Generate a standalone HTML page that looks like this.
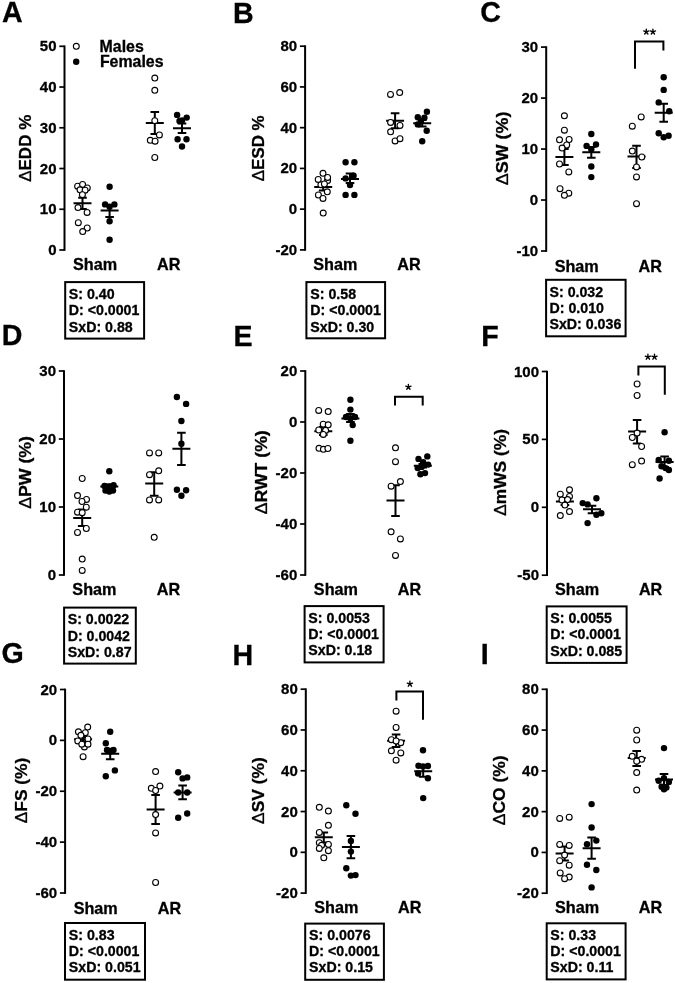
<!DOCTYPE html>
<html><head><meta charset="utf-8"><title>Figure</title><style>
html,body{margin:0;padding:0;background:#fff;}
svg{display:block;will-change:transform;}
text{font-family:"Liberation Sans", sans-serif;font-weight:bold;fill:#000;stroke:#000;stroke-width:0.3px;}
.let{font-size:28.6px;}
.tk{font-size:15.5px;text-anchor:end;}
.xl{font-size:16.2px;text-anchor:middle;}
.yl{font-size:16.5px;text-anchor:middle;}
.dl{font-weight:normal;}
.bx{font-size:14.2px;}
.lg{font-size:15.9px;}
.st{font-size:18px;font-weight:normal;text-anchor:middle;}
circle{fill:#000;}
circle.o{fill:#fff;stroke:#000;stroke-width:1.1px;}
</style></head>
<body>
<svg width="675" height="983" viewBox="0 0 675 983">
<rect width="675" height="983" fill="#fff"/>
<g id="pA">
<text x="2" y="21.8" class="let">A</text>
<line x1="64.5" y1="45.45" x2="64.5" y2="250.85" stroke="#000" stroke-width="2.0"/>
<line x1="59.3" y1="250" x2="64.5" y2="250" stroke="#000" stroke-width="1.7"/>
<text transform="translate(56.5,255) scale(0.97,1)" class="tk">0</text>
<line x1="59.3" y1="209.26" x2="64.5" y2="209.26" stroke="#000" stroke-width="1.7"/>
<text transform="translate(56.5,214.26) scale(0.97,1)" class="tk">10</text>
<line x1="59.3" y1="168.52" x2="64.5" y2="168.52" stroke="#000" stroke-width="1.7"/>
<text transform="translate(56.5,173.52) scale(0.97,1)" class="tk">20</text>
<line x1="59.3" y1="127.78" x2="64.5" y2="127.78" stroke="#000" stroke-width="1.7"/>
<text transform="translate(56.5,132.78) scale(0.97,1)" class="tk">30</text>
<line x1="59.3" y1="87.04" x2="64.5" y2="87.04" stroke="#000" stroke-width="1.7"/>
<text transform="translate(56.5,92.04) scale(0.97,1)" class="tk">40</text>
<line x1="59.3" y1="46.3" x2="64.5" y2="46.3" stroke="#000" stroke-width="1.7"/>
<text transform="translate(56.5,51.3) scale(0.97,1)" class="tk">50</text>
<text transform="translate(30.9,148.3) rotate(-90)" class="yl" textLength="67.1" lengthAdjust="spacingAndGlyphs"><tspan class="dl">Δ</tspan>EDD %</text>
<text x="95" y="270" class="xl">Sham</text>
<text x="168.7" y="270" class="xl">AR</text>
<path d="M82.5 197.8V208.9M78.2 197.8H86.8M78.2 208.9H86.8M73.5 203.3H91.5" stroke="#000" stroke-width="2.0" fill="none"/>
<path d="M109.6 205.5V216.9M105.3 205.5H113.9M105.3 216.9H113.9M100.6 210.5H118.6" stroke="#000" stroke-width="2.0" fill="none"/>
<path d="M154.8 112.1V134.1M150.5 112.1H159.1M150.5 134.1H159.1M145.8 122.9H163.8" stroke="#000" stroke-width="2.0" fill="none"/>
<path d="M182 123.6V133M177.7 123.6H186.3M177.7 133H186.3M173 128.2H191" stroke="#000" stroke-width="2.0" fill="none"/>
<circle cx="77.6" cy="186.2" r="2.95" class="o"/>
<circle cx="82.6" cy="184.4" r="2.95" class="o"/>
<circle cx="87.3" cy="188" r="2.95" class="o"/>
<circle cx="80" cy="189.8" r="2.95" class="o"/>
<circle cx="85.1" cy="190.2" r="2.95" class="o"/>
<circle cx="82.4" cy="194.7" r="2.95" class="o"/>
<circle cx="78" cy="207.6" r="2.95" class="o"/>
<circle cx="87.1" cy="212.4" r="2.95" class="o"/>
<circle cx="78.3" cy="222.7" r="2.95" class="o"/>
<circle cx="87.2" cy="228" r="2.95" class="o"/>
<circle cx="82.7" cy="231.6" r="2.95" class="o"/>
<circle cx="109.6" cy="186.8" r="3.2"/>
<circle cx="105.1" cy="204.4" r="3.2"/>
<circle cx="114.4" cy="204.4" r="3.2"/>
<circle cx="109.6" cy="206.7" r="3.2"/>
<circle cx="109.6" cy="221.3" r="3.2"/>
<circle cx="109.6" cy="239.8" r="3.2"/>
<circle cx="154.8" cy="78.1" r="2.95" class="o"/>
<circle cx="154.8" cy="90.3" r="2.95" class="o"/>
<circle cx="154.8" cy="120.7" r="2.95" class="o"/>
<circle cx="159.4" cy="134.9" r="2.95" class="o"/>
<circle cx="150.3" cy="140.3" r="2.95" class="o"/>
<circle cx="155.1" cy="141.2" r="2.95" class="o"/>
<circle cx="154.8" cy="157.5" r="2.95" class="o"/>
<circle cx="177.1" cy="114.9" r="3.2"/>
<circle cx="186.7" cy="117.6" r="3.2"/>
<circle cx="182" cy="120.5" r="3.2"/>
<circle cx="179.5" cy="121" r="3.2"/>
<circle cx="177.6" cy="139.2" r="3.2"/>
<circle cx="186.5" cy="139.2" r="3.2"/>
<circle cx="182" cy="146.5" r="3.2"/>
<rect x="65.2" y="282.1" width="78.9" height="56.5" fill="none" stroke="#000" stroke-width="2.0"/>
<text x="68.8" y="298.9" class="bx">S: 0.40</text>
<text x="68.8" y="315.2" class="bx">D: &lt;0.0001</text>
<text x="68.8" y="331.5" class="bx">SxD: 0.88</text>
<circle cx="76.3" cy="46.3" r="2.95" class="o"/>
<circle cx="76.2" cy="61.7" r="3.2"/>
<text x="99.6" y="51.9" class="lg">Males</text>
<text x="99.9" y="66.5" class="lg">Females</text>
</g>
<g id="pB">
<text x="233" y="22.6" class="let">B</text>
<line x1="305.1" y1="45.35" x2="305.1" y2="250.75" stroke="#000" stroke-width="2.0"/>
<line x1="299.9" y1="249.9" x2="305.1" y2="249.9" stroke="#000" stroke-width="1.7"/>
<text transform="translate(297.1,254.9) scale(0.97,1)" class="tk">-20</text>
<line x1="299.9" y1="209.16" x2="305.1" y2="209.16" stroke="#000" stroke-width="1.7"/>
<text transform="translate(297.1,214.16) scale(0.97,1)" class="tk">0</text>
<line x1="299.9" y1="168.42" x2="305.1" y2="168.42" stroke="#000" stroke-width="1.7"/>
<text transform="translate(297.1,173.42) scale(0.97,1)" class="tk">20</text>
<line x1="299.9" y1="127.68" x2="305.1" y2="127.68" stroke="#000" stroke-width="1.7"/>
<text transform="translate(297.1,132.68) scale(0.97,1)" class="tk">40</text>
<line x1="299.9" y1="86.94" x2="305.1" y2="86.94" stroke="#000" stroke-width="1.7"/>
<text transform="translate(297.1,91.94) scale(0.97,1)" class="tk">60</text>
<line x1="299.9" y1="46.2" x2="305.1" y2="46.2" stroke="#000" stroke-width="1.7"/>
<text transform="translate(297.1,51.2) scale(0.97,1)" class="tk">80</text>
<text transform="translate(264.2,148.3) rotate(-90)" class="yl" textLength="65.8" lengthAdjust="spacingAndGlyphs"><tspan class="dl">Δ</tspan>ESD %</text>
<text x="335.3" y="270" class="xl">Sham</text>
<text x="409" y="270" class="xl">AR</text>
<path d="M323.2 184V190.6M318.9 184H327.5M318.9 190.6H327.5M314.2 187.1H332.2" stroke="#000" stroke-width="2.0" fill="none"/>
<path d="M350 173.6V183M345.7 173.6H354.3M345.7 183H354.3M341 178.9H359" stroke="#000" stroke-width="2.0" fill="none"/>
<path d="M395.1 113.3V128.3M390.8 113.3H399.4M390.8 128.3H399.4M386.1 120.8H404.1" stroke="#000" stroke-width="2.0" fill="none"/>
<path d="M422.2 120V126.5M417.9 120H426.5M417.9 126.5H426.5M413.2 123.3H431.2" stroke="#000" stroke-width="2.0" fill="none"/>
<circle cx="320.9" cy="184.7" r="2.95" class="o"/>
<circle cx="327.6" cy="180.5" r="2.95" class="o"/>
<circle cx="323" cy="173.3" r="2.95" class="o"/>
<circle cx="327.6" cy="177.4" r="2.95" class="o"/>
<circle cx="318.2" cy="179.4" r="2.95" class="o"/>
<circle cx="324.4" cy="184" r="2.95" class="o"/>
<circle cx="327.3" cy="191.8" r="2.95" class="o"/>
<circle cx="318.4" cy="195" r="2.95" class="o"/>
<circle cx="323" cy="198.4" r="2.95" class="o"/>
<circle cx="323.2" cy="213.1" r="2.95" class="o"/>
<circle cx="345.6" cy="162.3" r="3.2"/>
<circle cx="354.4" cy="162.3" r="3.2"/>
<circle cx="345.6" cy="178.4" r="3.2"/>
<circle cx="353.6" cy="175.8" r="3.2"/>
<circle cx="350" cy="185.1" r="3.2"/>
<circle cx="345.6" cy="194.9" r="3.2"/>
<circle cx="354.4" cy="194.9" r="3.2"/>
<circle cx="390.5" cy="94.4" r="2.95" class="o"/>
<circle cx="399.7" cy="92.6" r="2.95" class="o"/>
<circle cx="390.6" cy="122.4" r="2.95" class="o"/>
<circle cx="400" cy="125.4" r="2.95" class="o"/>
<circle cx="390.6" cy="131.8" r="2.95" class="o"/>
<circle cx="395.1" cy="140.9" r="2.95" class="o"/>
<circle cx="400" cy="138.7" r="2.95" class="o"/>
<circle cx="426.9" cy="111.8" r="3.2"/>
<circle cx="417.8" cy="117.3" r="3.2"/>
<circle cx="424.4" cy="117.8" r="3.2"/>
<circle cx="417.8" cy="124.4" r="3.2"/>
<circle cx="421" cy="121" r="3.2"/>
<circle cx="426.7" cy="130.7" r="3.2"/>
<circle cx="422.2" cy="141.2" r="3.2"/>
<rect x="306.4" y="282.1" width="78.7" height="56.2" fill="none" stroke="#000" stroke-width="2.0"/>
<text x="310.3" y="298.9" class="bx">S: 0.58</text>
<text x="310.3" y="315.2" class="bx">D: &lt;0.0001</text>
<text x="310.3" y="331.5" class="bx">SxD: 0.30</text>
</g>
<g id="pC">
<text x="480.3" y="22.3" class="let">C</text>
<line x1="546.2" y1="46.25" x2="546.2" y2="251.85" stroke="#000" stroke-width="2.0"/>
<line x1="541" y1="251" x2="546.2" y2="251" stroke="#000" stroke-width="1.7"/>
<text transform="translate(538.2,256) scale(0.97,1)" class="tk">-10</text>
<line x1="541" y1="200.03" x2="546.2" y2="200.03" stroke="#000" stroke-width="1.7"/>
<text transform="translate(538.2,205.03) scale(0.97,1)" class="tk">0</text>
<line x1="541" y1="149.05" x2="546.2" y2="149.05" stroke="#000" stroke-width="1.7"/>
<text transform="translate(538.2,154.05) scale(0.97,1)" class="tk">10</text>
<line x1="541" y1="98.08" x2="546.2" y2="98.08" stroke="#000" stroke-width="1.7"/>
<text transform="translate(538.2,103.08) scale(0.97,1)" class="tk">20</text>
<line x1="541" y1="47.1" x2="546.2" y2="47.1" stroke="#000" stroke-width="1.7"/>
<text transform="translate(538.2,52.1) scale(0.97,1)" class="tk">30</text>
<text transform="translate(508.3,148.4) rotate(-90)" class="yl" textLength="73.5" lengthAdjust="spacingAndGlyphs"><tspan class="dl">Δ</tspan>SW (%)</text>
<text x="576.7" y="271.8" class="xl">Sham</text>
<text x="650.2" y="271.8" class="xl">AR</text>
<path d="M564.4 148.9V165.1M560.1 148.9H568.7M560.1 165.1H568.7M555.4 157.1H573.4" stroke="#000" stroke-width="2.0" fill="none"/>
<path d="M591.3 147V157.8M587 147H595.6M587 157.8H595.6M582.3 152.3H600.3" stroke="#000" stroke-width="2.0" fill="none"/>
<path d="M636.5 145.7V168M632.2 145.7H640.8M632.2 168H640.8M627.5 156.6H645.5" stroke="#000" stroke-width="2.0" fill="none"/>
<path d="M663.7 103.8V121.7M659.4 103.8H668M659.4 121.7H668M654.7 112.7H672.7" stroke="#000" stroke-width="2.0" fill="none"/>
<circle cx="564.4" cy="115.8" r="2.95" class="o"/>
<circle cx="564.4" cy="130.2" r="2.95" class="o"/>
<circle cx="559.5" cy="139.8" r="2.95" class="o"/>
<circle cx="569.1" cy="139.5" r="2.95" class="o"/>
<circle cx="566.7" cy="145" r="2.95" class="o"/>
<circle cx="562.1" cy="148.1" r="2.95" class="o"/>
<circle cx="559.5" cy="164" r="2.95" class="o"/>
<circle cx="568.8" cy="171.9" r="2.95" class="o"/>
<circle cx="560" cy="188.7" r="2.95" class="o"/>
<circle cx="568.8" cy="193.2" r="2.95" class="o"/>
<circle cx="564.4" cy="195.3" r="2.95" class="o"/>
<circle cx="591.3" cy="134" r="3.2"/>
<circle cx="586.6" cy="145.9" r="3.2"/>
<circle cx="596" cy="144.5" r="3.2"/>
<circle cx="591.3" cy="149.2" r="3.2"/>
<circle cx="591.3" cy="166.5" r="3.2"/>
<circle cx="591.3" cy="177.1" r="3.2"/>
<circle cx="641.2" cy="116.9" r="2.95" class="o"/>
<circle cx="632.3" cy="126.2" r="2.95" class="o"/>
<circle cx="632.3" cy="151.1" r="2.95" class="o"/>
<circle cx="641.8" cy="157" r="2.95" class="o"/>
<circle cx="636.5" cy="166.9" r="2.95" class="o"/>
<circle cx="636.5" cy="176.9" r="2.95" class="o"/>
<circle cx="636.5" cy="203.7" r="2.95" class="o"/>
<circle cx="663.7" cy="77.2" r="3.2"/>
<circle cx="663.7" cy="89.9" r="3.2"/>
<circle cx="658.7" cy="102.4" r="3.2"/>
<circle cx="669.2" cy="111.3" r="3.2"/>
<circle cx="658.7" cy="133.2" r="3.2"/>
<circle cx="663.7" cy="137.2" r="3.2"/>
<circle cx="668.6" cy="135.8" r="3.2"/>
<path d="M635 68.8V41.4H663.4V50.4" stroke="#000" stroke-width="2" fill="none"/>
<path d="M646.30 31.80L646.30 29.05M646.30 31.80L648.92 30.95M646.30 31.80L647.92 34.02M646.30 31.80L644.68 34.02M646.30 31.80L643.68 30.95" stroke="#000" stroke-width="1.35" stroke-linecap="round" fill="none"/>
<path d="M652.90 31.80L652.90 29.05M652.90 31.80L655.52 30.95M652.90 31.80L654.52 34.02M652.90 31.80L651.28 34.02M652.90 31.80L650.28 30.95" stroke="#000" stroke-width="1.35" stroke-linecap="round" fill="none"/>
<rect x="546.1" y="279.8" width="79.5" height="56.5" fill="none" stroke="#000" stroke-width="2.0"/>
<text x="549.5" y="296.7" class="bx">S: 0.032</text>
<text x="549.5" y="312.7" class="bx">D: 0.010</text>
<text x="549.5" y="328.7" class="bx">SxD: 0.036</text>
</g>
<g id="pD">
<text x="1.7" y="344.8" class="let">D</text>
<line x1="64" y1="370.15" x2="64" y2="575.85" stroke="#000" stroke-width="2.0"/>
<line x1="58.8" y1="575" x2="64" y2="575" stroke="#000" stroke-width="1.7"/>
<text transform="translate(56,580) scale(0.97,1)" class="tk">0</text>
<line x1="58.8" y1="507" x2="64" y2="507" stroke="#000" stroke-width="1.7"/>
<text transform="translate(56,512) scale(0.97,1)" class="tk">10</text>
<line x1="58.8" y1="439" x2="64" y2="439" stroke="#000" stroke-width="1.7"/>
<text transform="translate(56,444) scale(0.97,1)" class="tk">20</text>
<line x1="58.8" y1="371" x2="64" y2="371" stroke="#000" stroke-width="1.7"/>
<text transform="translate(56,376) scale(0.97,1)" class="tk">30</text>
<text transform="translate(30.7,472.4) rotate(-90)" class="yl" textLength="72.8" lengthAdjust="spacingAndGlyphs"><tspan class="dl">Δ</tspan>PW (%)</text>
<text x="94.4" y="595" class="xl">Sham</text>
<text x="168.4" y="595" class="xl">AR</text>
<path d="M82.2 509.5V526M77.9 509.5H86.5M77.9 526H86.5M73.2 518H91.2" stroke="#000" stroke-width="2.0" fill="none"/>
<path d="M109.3 484.5V488.5M105 484.5H113.6M105 488.5H113.6M100.3 486.4H118.3" stroke="#000" stroke-width="2.0" fill="none"/>
<path d="M154.2 472.2V495.7M149.9 472.2H158.5M149.9 495.7H158.5M145.2 483.6H163.2" stroke="#000" stroke-width="2.0" fill="none"/>
<path d="M181.4 432.8V465.1M177.1 432.8H185.7M177.1 465.1H185.7M172.4 448.7H190.4" stroke="#000" stroke-width="2.0" fill="none"/>
<circle cx="82.2" cy="478.5" r="2.95" class="o"/>
<circle cx="77.5" cy="495.6" r="2.95" class="o"/>
<circle cx="86.5" cy="499.4" r="2.95" class="o"/>
<circle cx="82" cy="501.5" r="2.95" class="o"/>
<circle cx="86.3" cy="507.2" r="2.95" class="o"/>
<circle cx="77.5" cy="512.2" r="2.95" class="o"/>
<circle cx="82.2" cy="512.7" r="2.95" class="o"/>
<circle cx="86.3" cy="528.5" r="2.95" class="o"/>
<circle cx="77.5" cy="532.5" r="2.95" class="o"/>
<circle cx="82.2" cy="559.1" r="2.95" class="o"/>
<circle cx="82.2" cy="570.4" r="2.95" class="o"/>
<circle cx="109.3" cy="471.3" r="3.2"/>
<circle cx="104.5" cy="486" r="3.2"/>
<circle cx="113.6" cy="485.3" r="3.2"/>
<circle cx="109.3" cy="486.5" r="3.2"/>
<circle cx="105.5" cy="490.5" r="3.2"/>
<circle cx="113" cy="490.5" r="3.2"/>
<circle cx="109.3" cy="491.5" r="3.2"/>
<circle cx="149.5" cy="452.9" r="2.95" class="o"/>
<circle cx="158.7" cy="452.9" r="2.95" class="o"/>
<circle cx="158.7" cy="470.8" r="2.95" class="o"/>
<circle cx="149.5" cy="474.7" r="2.95" class="o"/>
<circle cx="149.5" cy="499.9" r="2.95" class="o"/>
<circle cx="158.7" cy="499.9" r="2.95" class="o"/>
<circle cx="154.2" cy="537.3" r="2.95" class="o"/>
<circle cx="176.9" cy="397" r="3.2"/>
<circle cx="186.1" cy="403.9" r="3.2"/>
<circle cx="181.4" cy="421" r="3.2"/>
<circle cx="181.4" cy="443.7" r="3.2"/>
<circle cx="176.9" cy="489.8" r="3.2"/>
<circle cx="186.1" cy="490.3" r="3.2"/>
<circle cx="181.4" cy="495.7" r="3.2"/>
<rect x="64.1" y="607.6" width="71.7" height="56" fill="none" stroke="#000" stroke-width="2.0"/>
<text x="67.7" y="624.2" class="bx">S: 0.0022</text>
<text x="67.7" y="640.5" class="bx">D: 0.0042</text>
<text x="67.7" y="656.8" class="bx">SxD: 0.87</text>
</g>
<g id="pE">
<text x="233.4" y="346.1" class="let">E</text>
<line x1="305.3" y1="370.15" x2="305.3" y2="575.85" stroke="#000" stroke-width="2.0"/>
<line x1="300.1" y1="575" x2="305.3" y2="575" stroke="#000" stroke-width="1.7"/>
<text transform="translate(297.3,580) scale(0.97,1)" class="tk">-60</text>
<line x1="300.1" y1="524" x2="305.3" y2="524" stroke="#000" stroke-width="1.7"/>
<text transform="translate(297.3,529) scale(0.97,1)" class="tk">-40</text>
<line x1="300.1" y1="473" x2="305.3" y2="473" stroke="#000" stroke-width="1.7"/>
<text transform="translate(297.3,478) scale(0.97,1)" class="tk">-20</text>
<line x1="300.1" y1="422" x2="305.3" y2="422" stroke="#000" stroke-width="1.7"/>
<text transform="translate(297.3,427) scale(0.97,1)" class="tk">0</text>
<line x1="300.1" y1="371" x2="305.3" y2="371" stroke="#000" stroke-width="1.7"/>
<text transform="translate(297.3,376) scale(0.97,1)" class="tk">20</text>
<text transform="translate(267.1,472.3) rotate(-90)" class="yl" textLength="84" lengthAdjust="spacingAndGlyphs"><tspan class="dl">Δ</tspan>RWT (%)</text>
<text x="335.9" y="595" class="xl">Sham</text>
<text x="409.4" y="595" class="xl">AR</text>
<path d="M323.3 427V435M319 427H327.6M319 435H327.6M314.3 431.3H332.3" stroke="#000" stroke-width="2.0" fill="none"/>
<path d="M350.4 414V422M346.1 414H354.7M346.1 422H354.7M341.4 418.4H359.4" stroke="#000" stroke-width="2.0" fill="none"/>
<path d="M395.5 485.3V515.9M391.2 485.3H399.8M391.2 515.9H399.8M386.5 500.5H404.5" stroke="#000" stroke-width="2.0" fill="none"/>
<path d="M422.8 464V467.5M418.5 464H427.1M418.5 467.5H427.1M413.8 465.8H431.8" stroke="#000" stroke-width="2.0" fill="none"/>
<circle cx="318.7" cy="410.4" r="2.95" class="o"/>
<circle cx="328.2" cy="411.6" r="2.95" class="o"/>
<circle cx="323.2" cy="424.2" r="2.95" class="o"/>
<circle cx="328.2" cy="424.8" r="2.95" class="o"/>
<circle cx="318.7" cy="430" r="2.95" class="o"/>
<circle cx="325.6" cy="430.4" r="2.95" class="o"/>
<circle cx="323.3" cy="434.4" r="2.95" class="o"/>
<circle cx="319" cy="448.3" r="2.95" class="o"/>
<circle cx="323.4" cy="449.3" r="2.95" class="o"/>
<circle cx="327.9" cy="448.5" r="2.95" class="o"/>
<circle cx="350.4" cy="399.8" r="3.2"/>
<circle cx="350.4" cy="409.6" r="3.2"/>
<circle cx="346" cy="417" r="3.2"/>
<circle cx="355" cy="417" r="3.2"/>
<circle cx="350.4" cy="418.5" r="3.2"/>
<circle cx="352.7" cy="425.1" r="3.2"/>
<circle cx="350.4" cy="440.7" r="3.2"/>
<circle cx="395.5" cy="447.8" r="2.95" class="o"/>
<circle cx="395.5" cy="461.7" r="2.95" class="o"/>
<circle cx="400.4" cy="481.6" r="2.95" class="o"/>
<circle cx="391.1" cy="486.2" r="2.95" class="o"/>
<circle cx="391.1" cy="531.8" r="2.95" class="o"/>
<circle cx="400.4" cy="538.9" r="2.95" class="o"/>
<circle cx="395.5" cy="555.4" r="2.95" class="o"/>
<circle cx="427.3" cy="456.4" r="3.2"/>
<circle cx="418.5" cy="458.9" r="3.2"/>
<circle cx="423.1" cy="462.3" r="3.2"/>
<circle cx="428.1" cy="464.6" r="3.2"/>
<circle cx="417.7" cy="468.1" r="3.2"/>
<circle cx="421.6" cy="466.9" r="3.2"/>
<circle cx="420.4" cy="474.3" r="3.2"/>
<circle cx="425" cy="473.1" r="3.2"/>
<path d="M395 405.5V396.8H422.7V405.5" stroke="#000" stroke-width="2" fill="none"/>
<path d="M408.40 387.05L408.40 384.30M408.40 387.05L411.02 386.20M408.40 387.05L410.02 389.27M408.40 387.05L406.78 389.27M408.40 387.05L405.78 386.20" stroke="#000" stroke-width="1.35" stroke-linecap="round" fill="none"/>
<rect x="304.6" y="606.1" width="79" height="56.3" fill="none" stroke="#000" stroke-width="2.0"/>
<text x="308.3" y="622.7" class="bx">S: 0.0053</text>
<text x="308.3" y="639" class="bx">D: &lt;0.0001</text>
<text x="308.3" y="655" class="bx">SxD: 0.18</text>
</g>
<g id="pF">
<text x="481.3" y="345.8" class="let">F</text>
<line x1="547" y1="370.65" x2="547" y2="576.05" stroke="#000" stroke-width="2.0"/>
<line x1="541.8" y1="575.2" x2="547" y2="575.2" stroke="#000" stroke-width="1.7"/>
<text transform="translate(539,580.2) scale(0.97,1)" class="tk">-50</text>
<line x1="541.8" y1="507.3" x2="547" y2="507.3" stroke="#000" stroke-width="1.7"/>
<text transform="translate(539,512.3) scale(0.97,1)" class="tk">0</text>
<line x1="541.8" y1="439.4" x2="547" y2="439.4" stroke="#000" stroke-width="1.7"/>
<text transform="translate(539,444.4) scale(0.97,1)" class="tk">50</text>
<line x1="541.8" y1="371.5" x2="547" y2="371.5" stroke="#000" stroke-width="1.7"/>
<text transform="translate(539,376.5) scale(0.97,1)" class="tk">100</text>
<text transform="translate(506,472.4) rotate(-90)" class="yl" textLength="86.9" lengthAdjust="spacingAndGlyphs"><tspan class="dl">Δ</tspan>mWS (%)</text>
<text x="577.1" y="595" class="xl">Sham</text>
<text x="650.6" y="595" class="xl">AR</text>
<path d="M564.9 498V505M560.6 498H569.2M560.6 505H569.2M555.9 501.5H573.9" stroke="#000" stroke-width="2.0" fill="none"/>
<path d="M592 505.8V513.2M587.7 505.8H596.3M587.7 513.2H596.3M583 509.3H601" stroke="#000" stroke-width="2.0" fill="none"/>
<path d="M637.1 420.1V443.6M632.8 420.1H641.4M632.8 443.6H641.4M628.1 431.6H646.1" stroke="#000" stroke-width="2.0" fill="none"/>
<path d="M664.6 456.5V467M660.3 456.5H668.9M660.3 467H668.9M655.6 462H673.6" stroke="#000" stroke-width="2.0" fill="none"/>
<circle cx="569.5" cy="489.8" r="2.95" class="o"/>
<circle cx="560.3" cy="494.2" r="2.95" class="o"/>
<circle cx="569.5" cy="496.4" r="2.95" class="o"/>
<circle cx="562" cy="500" r="2.95" class="o"/>
<circle cx="567.6" cy="499.6" r="2.95" class="o"/>
<circle cx="564.9" cy="505.1" r="2.95" class="o"/>
<circle cx="569.5" cy="511.6" r="2.95" class="o"/>
<circle cx="560.3" cy="515.6" r="2.95" class="o"/>
<circle cx="596.4" cy="498.2" r="3.2"/>
<circle cx="582.7" cy="503.1" r="3.2"/>
<circle cx="587.6" cy="504.4" r="3.2"/>
<circle cx="596.4" cy="514.7" r="3.2"/>
<circle cx="601.3" cy="513.3" r="3.2"/>
<circle cx="587.6" cy="523.1" r="3.2"/>
<circle cx="637.1" cy="384" r="2.95" class="o"/>
<circle cx="637.1" cy="395.5" r="2.95" class="o"/>
<circle cx="637.1" cy="433.1" r="2.95" class="o"/>
<circle cx="632.3" cy="437.5" r="2.95" class="o"/>
<circle cx="641.6" cy="446.5" r="2.95" class="o"/>
<circle cx="641.6" cy="461.1" r="2.95" class="o"/>
<circle cx="632.3" cy="464.7" r="2.95" class="o"/>
<circle cx="664.6" cy="432.2" r="3.2"/>
<circle cx="658.7" cy="460" r="3.2"/>
<circle cx="668.9" cy="460.7" r="3.2"/>
<circle cx="661.5" cy="466.3" r="3.2"/>
<circle cx="665.6" cy="468.1" r="3.2"/>
<circle cx="668.9" cy="470" r="3.2"/>
<circle cx="659.6" cy="478.5" r="3.2"/>
<path d="M638.4 375.5V366.6H664.8V394.8" stroke="#000" stroke-width="2" fill="none"/>
<path d="M647.90 357.00L647.90 354.25M647.90 357.00L650.52 356.15M647.90 357.00L649.52 359.22M647.90 357.00L646.28 359.22M647.90 357.00L645.28 356.15" stroke="#000" stroke-width="1.35" stroke-linecap="round" fill="none"/>
<path d="M654.50 357.00L654.50 354.25M654.50 357.00L657.12 356.15M654.50 357.00L656.12 359.22M654.50 357.00L652.88 359.22M654.50 357.00L651.88 356.15" stroke="#000" stroke-width="1.35" stroke-linecap="round" fill="none"/>
<rect x="546.7" y="606.4" width="79.9" height="56.5" fill="none" stroke="#000" stroke-width="2.0"/>
<text x="550.3" y="623" class="bx">S: 0.0055</text>
<text x="550.3" y="639.4" class="bx">D: &lt;0.0001</text>
<text x="550.3" y="655.7" class="bx">SxD: 0.085</text>
</g>
<g id="pG">
<text x="1.4" y="662.5" class="let">G</text>
<line x1="65.1" y1="688.65" x2="65.1" y2="893.85" stroke="#000" stroke-width="2.0"/>
<line x1="59.9" y1="893" x2="65.1" y2="893" stroke="#000" stroke-width="1.7"/>
<text transform="translate(57.1,898) scale(0.97,1)" class="tk">-60</text>
<line x1="59.9" y1="842.12" x2="65.1" y2="842.12" stroke="#000" stroke-width="1.7"/>
<text transform="translate(57.1,847.12) scale(0.97,1)" class="tk">-40</text>
<line x1="59.9" y1="791.25" x2="65.1" y2="791.25" stroke="#000" stroke-width="1.7"/>
<text transform="translate(57.1,796.25) scale(0.97,1)" class="tk">-20</text>
<line x1="59.9" y1="740.38" x2="65.1" y2="740.38" stroke="#000" stroke-width="1.7"/>
<text transform="translate(57.1,745.38) scale(0.97,1)" class="tk">0</text>
<line x1="59.9" y1="689.5" x2="65.1" y2="689.5" stroke="#000" stroke-width="1.7"/>
<text transform="translate(57.1,694.5) scale(0.97,1)" class="tk">20</text>
<text transform="translate(26.5,790.5) rotate(-90)" class="yl" textLength="65.6" lengthAdjust="spacingAndGlyphs"><tspan class="dl">Δ</tspan>FS (%)</text>
<text x="95.7" y="914.2" class="xl">Sham</text>
<text x="169.4" y="914.2" class="xl">AR</text>
<path d="M83.1 737V741.5M78.8 737H87.4M78.8 741.5H87.4M74.1 739.3H92.1" stroke="#000" stroke-width="2.0" fill="none"/>
<path d="M110.2 748.7V759.3M105.9 748.7H114.5M105.9 759.3H114.5M101.2 753.8H119.2" stroke="#000" stroke-width="2.0" fill="none"/>
<path d="M155.6 795.1V823.9M151.3 795.1H159.9M151.3 823.9H159.9M146.6 809.4H164.6" stroke="#000" stroke-width="2.0" fill="none"/>
<path d="M182.6 785.5V799.2M178.3 785.5H186.9M178.3 799.2H186.9M173.6 792.5H191.6" stroke="#000" stroke-width="2.0" fill="none"/>
<circle cx="84.4" cy="746.9" r="2.95" class="o"/>
<circle cx="87.7" cy="727.1" r="2.95" class="o"/>
<circle cx="78.4" cy="731.8" r="2.95" class="o"/>
<circle cx="85.3" cy="732.7" r="2.95" class="o"/>
<circle cx="80.9" cy="735.3" r="2.95" class="o"/>
<circle cx="88" cy="738.9" r="2.95" class="o"/>
<circle cx="77.8" cy="740.9" r="2.95" class="o"/>
<circle cx="81.8" cy="744.2" r="2.95" class="o"/>
<circle cx="88" cy="744.2" r="2.95" class="o"/>
<circle cx="83.1" cy="756.7" r="2.95" class="o"/>
<circle cx="110.2" cy="731.8" r="3.2"/>
<circle cx="105.8" cy="743.2" r="3.2"/>
<circle cx="107" cy="750" r="3.2"/>
<circle cx="113.5" cy="750" r="3.2"/>
<circle cx="110.2" cy="751.5" r="3.2"/>
<circle cx="114.9" cy="770.4" r="3.2"/>
<circle cx="105.8" cy="776.2" r="3.2"/>
<circle cx="155.6" cy="771.6" r="2.95" class="o"/>
<circle cx="151.3" cy="788.3" r="2.95" class="o"/>
<circle cx="159.9" cy="786.1" r="2.95" class="o"/>
<circle cx="155.6" cy="790.5" r="2.95" class="o"/>
<circle cx="155.6" cy="814.6" r="2.95" class="o"/>
<circle cx="155.6" cy="832.9" r="2.95" class="o"/>
<circle cx="155.6" cy="882.5" r="2.95" class="o"/>
<circle cx="178.2" cy="772.3" r="3.2"/>
<circle cx="182.6" cy="778.4" r="3.2"/>
<circle cx="187.2" cy="777.4" r="3.2"/>
<circle cx="178.2" cy="792.5" r="3.2"/>
<circle cx="187.2" cy="792.5" r="3.2"/>
<circle cx="187.2" cy="813.5" r="3.2"/>
<circle cx="178.2" cy="817.8" r="3.2"/>
<rect x="65" y="923" width="80" height="56.7" fill="none" stroke="#000" stroke-width="2.0"/>
<text x="68.8" y="939.6" class="bx">S: 0.83</text>
<text x="68.8" y="956" class="bx">D: &lt;0.0001</text>
<text x="68.8" y="972" class="bx">SxD: 0.051</text>
</g>
<g id="pH">
<text x="232.4" y="664.6" class="let">H</text>
<line x1="305.8" y1="688.35" x2="305.8" y2="893.95" stroke="#000" stroke-width="2.0"/>
<line x1="300.6" y1="893.1" x2="305.8" y2="893.1" stroke="#000" stroke-width="1.7"/>
<text transform="translate(297.8,898.1) scale(0.97,1)" class="tk">-20</text>
<line x1="300.6" y1="852.32" x2="305.8" y2="852.32" stroke="#000" stroke-width="1.7"/>
<text transform="translate(297.8,857.32) scale(0.97,1)" class="tk">0</text>
<line x1="300.6" y1="811.54" x2="305.8" y2="811.54" stroke="#000" stroke-width="1.7"/>
<text transform="translate(297.8,816.54) scale(0.97,1)" class="tk">20</text>
<line x1="300.6" y1="770.76" x2="305.8" y2="770.76" stroke="#000" stroke-width="1.7"/>
<text transform="translate(297.8,775.76) scale(0.97,1)" class="tk">40</text>
<line x1="300.6" y1="729.98" x2="305.8" y2="729.98" stroke="#000" stroke-width="1.7"/>
<text transform="translate(297.8,734.98) scale(0.97,1)" class="tk">60</text>
<line x1="300.6" y1="689.2" x2="305.8" y2="689.2" stroke="#000" stroke-width="1.7"/>
<text transform="translate(297.8,694.2) scale(0.97,1)" class="tk">80</text>
<text transform="translate(264.4,790.6) rotate(-90)" class="yl" textLength="66.8" lengthAdjust="spacingAndGlyphs"><tspan class="dl">Δ</tspan>SV (%)</text>
<text x="336.3" y="913.3" class="xl">Sham</text>
<text x="409.8" y="913.3" class="xl">AR</text>
<path d="M323.8 832.4V842.5M319.5 832.4H328.1M319.5 842.5H328.1M314.8 837.3H332.8" stroke="#000" stroke-width="2.0" fill="none"/>
<path d="M350.9 836V858.2M346.6 836H355.2M346.6 858.2H355.2M341.9 846.9H359.9" stroke="#000" stroke-width="2.0" fill="none"/>
<path d="M396.1 734.4V747M391.8 734.4H400.4M391.8 747H400.4M387.1 740.7H405.1" stroke="#000" stroke-width="2.0" fill="none"/>
<path d="M423.2 767V776.7M418.9 767H427.5M418.9 776.7H427.5M414.2 771.2H432.2" stroke="#000" stroke-width="2.0" fill="none"/>
<circle cx="319.3" cy="807.3" r="2.95" class="o"/>
<circle cx="328.4" cy="811.1" r="2.95" class="o"/>
<circle cx="328.4" cy="825.3" r="2.95" class="o"/>
<circle cx="319.3" cy="832.4" r="2.95" class="o"/>
<circle cx="319.3" cy="842.7" r="2.95" class="o"/>
<circle cx="321.6" cy="845.3" r="2.95" class="o"/>
<circle cx="328.4" cy="844.4" r="2.95" class="o"/>
<circle cx="319.3" cy="848.4" r="2.95" class="o"/>
<circle cx="328.4" cy="850.7" r="2.95" class="o"/>
<circle cx="323.8" cy="857.8" r="2.95" class="o"/>
<circle cx="346.3" cy="805.3" r="3.2"/>
<circle cx="355.5" cy="813.8" r="3.2"/>
<circle cx="350.9" cy="840.9" r="3.2"/>
<circle cx="350.9" cy="851.6" r="3.2"/>
<circle cx="346.3" cy="868.3" r="3.2"/>
<circle cx="350.9" cy="875.6" r="3.2"/>
<circle cx="355.5" cy="875.1" r="3.2"/>
<circle cx="396.1" cy="711.2" r="2.95" class="o"/>
<circle cx="396.1" cy="727.5" r="2.95" class="o"/>
<circle cx="391.4" cy="739.7" r="2.95" class="o"/>
<circle cx="400.8" cy="742.7" r="2.95" class="o"/>
<circle cx="396.1" cy="741" r="2.95" class="o"/>
<circle cx="391.4" cy="750.8" r="2.95" class="o"/>
<circle cx="400.8" cy="752.9" r="2.95" class="o"/>
<circle cx="396.1" cy="760.2" r="2.95" class="o"/>
<circle cx="423" cy="750.3" r="3.2"/>
<circle cx="418.5" cy="765.7" r="3.2"/>
<circle cx="427.9" cy="766" r="3.2"/>
<circle cx="423" cy="766.5" r="3.2"/>
<circle cx="418.1" cy="773.5" r="3.2"/>
<circle cx="427.9" cy="778.2" r="3.2"/>
<circle cx="423.2" cy="798.1" r="3.2"/>
<path d="M396.4 700.5V691.6H423V719.7" stroke="#000" stroke-width="2" fill="none"/>
<path d="M409.90 684.00L409.90 681.25M409.90 684.00L412.52 683.15M409.90 684.00L411.52 686.22M409.90 684.00L408.28 686.22M409.90 684.00L407.28 683.15" stroke="#000" stroke-width="1.35" stroke-linecap="round" fill="none"/>
<rect x="305.2" y="923.6" width="78.7" height="56.2" fill="none" stroke="#000" stroke-width="2.0"/>
<text x="309.1" y="939.9" class="bx">S: 0.0076</text>
<text x="309.1" y="956.2" class="bx">D: &lt;0.0001</text>
<text x="309.1" y="972.2" class="bx">SxD: 0.15</text>
</g>
<g id="pI">
<text x="480.8" y="663.7" class="let">I</text>
<line x1="546.8" y1="688.45" x2="546.8" y2="894.05" stroke="#000" stroke-width="2.0"/>
<line x1="541.6" y1="893.2" x2="546.8" y2="893.2" stroke="#000" stroke-width="1.7"/>
<text transform="translate(538.8,898.2) scale(0.97,1)" class="tk">-20</text>
<line x1="541.6" y1="852.42" x2="546.8" y2="852.42" stroke="#000" stroke-width="1.7"/>
<text transform="translate(538.8,857.42) scale(0.97,1)" class="tk">0</text>
<line x1="541.6" y1="811.64" x2="546.8" y2="811.64" stroke="#000" stroke-width="1.7"/>
<text transform="translate(538.8,816.64) scale(0.97,1)" class="tk">20</text>
<line x1="541.6" y1="770.86" x2="546.8" y2="770.86" stroke="#000" stroke-width="1.7"/>
<text transform="translate(538.8,775.86) scale(0.97,1)" class="tk">40</text>
<line x1="541.6" y1="730.08" x2="546.8" y2="730.08" stroke="#000" stroke-width="1.7"/>
<text transform="translate(538.8,735.08) scale(0.97,1)" class="tk">60</text>
<line x1="541.6" y1="689.3" x2="546.8" y2="689.3" stroke="#000" stroke-width="1.7"/>
<text transform="translate(538.8,694.3) scale(0.97,1)" class="tk">80</text>
<text transform="translate(505.3,790.3) rotate(-90)" class="yl" textLength="69.9" lengthAdjust="spacingAndGlyphs"><tspan class="dl">Δ</tspan>CO (%)</text>
<text x="577.1" y="913.1" class="xl">Sham</text>
<text x="650.4" y="913.1" class="xl">AR</text>
<path d="M564.6 846.4V860.4M560.3 846.4H568.9M560.3 860.4H568.9M555.6 853.4H573.6" stroke="#000" stroke-width="2.0" fill="none"/>
<path d="M591.6 837.5V858.7M587.3 837.5H595.9M587.3 858.7H595.9M582.6 848.3H600.6" stroke="#000" stroke-width="2.0" fill="none"/>
<path d="M636.7 751V766M632.4 751H641M632.4 766H641M627.7 758.1H645.7" stroke="#000" stroke-width="2.0" fill="none"/>
<path d="M664 774V785M659.7 774H668.3M659.7 785H668.3M655 779.5H673" stroke="#000" stroke-width="2.0" fill="none"/>
<circle cx="559.7" cy="818.4" r="2.95" class="o"/>
<circle cx="569.2" cy="817.2" r="2.95" class="o"/>
<circle cx="559.7" cy="844.4" r="2.95" class="o"/>
<circle cx="569.2" cy="845.4" r="2.95" class="o"/>
<circle cx="564.6" cy="855.1" r="2.95" class="o"/>
<circle cx="559.7" cy="860.7" r="2.95" class="o"/>
<circle cx="569.2" cy="865.2" r="2.95" class="o"/>
<circle cx="560.2" cy="872.9" r="2.95" class="o"/>
<circle cx="569.2" cy="877.1" r="2.95" class="o"/>
<circle cx="564.6" cy="878.7" r="2.95" class="o"/>
<circle cx="591.6" cy="804.1" r="3.2"/>
<circle cx="591.6" cy="827.5" r="3.2"/>
<circle cx="596.3" cy="840.6" r="3.2"/>
<circle cx="587" cy="844.3" r="3.2"/>
<circle cx="587" cy="864.7" r="3.2"/>
<circle cx="596.3" cy="870" r="3.2"/>
<circle cx="591.6" cy="887.4" r="3.2"/>
<circle cx="636.7" cy="730.2" r="2.95" class="o"/>
<circle cx="636.7" cy="740" r="2.95" class="o"/>
<circle cx="632.2" cy="756.3" r="2.95" class="o"/>
<circle cx="641.6" cy="759.3" r="2.95" class="o"/>
<circle cx="636.7" cy="761.2" r="2.95" class="o"/>
<circle cx="636.7" cy="772.6" r="2.95" class="o"/>
<circle cx="636.7" cy="790.1" r="2.95" class="o"/>
<circle cx="664" cy="748.1" r="3.2"/>
<circle cx="658.7" cy="780.7" r="3.2"/>
<circle cx="668.9" cy="782" r="3.2"/>
<circle cx="664" cy="778.3" r="3.2"/>
<circle cx="661.6" cy="786.8" r="3.2"/>
<circle cx="666.4" cy="787.6" r="3.2"/>
<circle cx="664" cy="789.3" r="3.2"/>
<rect x="546.7" y="923.3" width="78.9" height="56.1" fill="none" stroke="#000" stroke-width="2.0"/>
<text x="550.3" y="939.5" class="bx">S: 0.33</text>
<text x="550.3" y="955.8" class="bx">D: &lt;0.0001</text>
<text x="550.3" y="971.8" class="bx">SxD: 0.11</text>
</g>
</svg>
</body></html>
